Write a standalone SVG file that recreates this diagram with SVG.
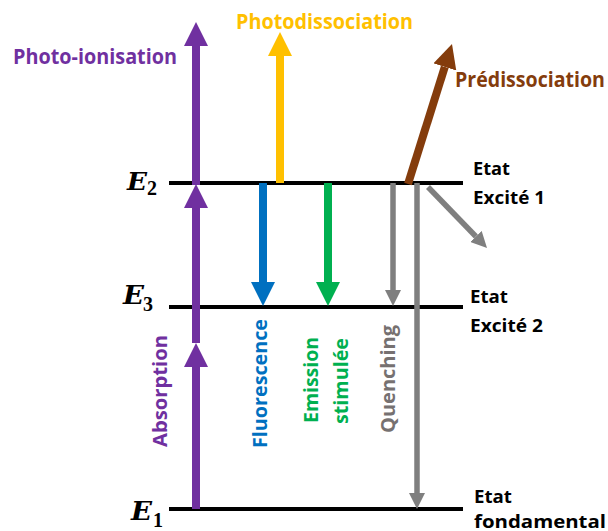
<svg xmlns="http://www.w3.org/2000/svg" width="608" height="531" viewBox="0 0 608 531">
<style>
.lvl{stroke:#000;stroke-width:4;}
.lbl{font-family:"Open Sans","Liberation Sans",sans-serif;font-weight:700;}
.ttl{font-size:21px;}
.st{font-size:18px;fill:#000;}
.vt{font-size:19px;}
.E{font-family:"DejaVu Serif","Liberation Serif",serif;font-weight:700;font-style:italic;fill:#000;}
.sub{font-family:"Liberation Serif",serif;font-weight:700;fill:#000;font-size:20px;}
.a8{stroke-width:8;fill:none;}
.a6{stroke-width:5.5;fill:none;}
</style>
<defs>
<marker id="hP" markerUnits="userSpaceOnUse" markerWidth="24" markerHeight="24" refX="0" refY="12" orient="auto" viewBox="0 0 24 24"><path d="M0,0 L24,12 L0,24 z" fill="#7030A0"/></marker>
<marker id="hY" markerUnits="userSpaceOnUse" markerWidth="24" markerHeight="24" refX="0" refY="12" orient="auto" viewBox="0 0 24 24"><path d="M0,0 L24,12 L0,24 z" fill="#FFC000"/></marker>
<marker id="hB" markerUnits="userSpaceOnUse" markerWidth="24" markerHeight="24" refX="0" refY="12" orient="auto" viewBox="0 0 24 24"><path d="M0,0 L24,12 L0,24 z" fill="#0070C0"/></marker>
<marker id="hG" markerUnits="userSpaceOnUse" markerWidth="24" markerHeight="24" refX="0" refY="12" orient="auto" viewBox="0 0 24 24"><path d="M0,0 L24,12 L0,24 z" fill="#00B050"/></marker>
<marker id="hBr" markerUnits="userSpaceOnUse" markerWidth="24" markerHeight="24" refX="0" refY="12" orient="auto" viewBox="0 0 24 24"><path d="M0,0 L24,12 L0,24 z" fill="#843C0C"/></marker>
<marker id="hGr" markerUnits="userSpaceOnUse" markerWidth="16" markerHeight="16" refX="0" refY="8" orient="auto" viewBox="0 0 16 16"><path d="M0,0 L16,8 L0,16 z" fill="#7F7F7F"/></marker>
</defs>

<g id="level-E2">
<line class="lvl" x1="169" y1="183" x2="463" y2="183"/>
<text class="E" x="127" y="190" font-size="25" textLength="20" lengthAdjust="spacingAndGlyphs">E</text>
<text class="sub" x="147" y="195">2</text>
<text class="lbl st" x="473" y="175" textLength="37" lengthAdjust="spacingAndGlyphs">Etat</text>
<text class="lbl st" x="473" y="204" textLength="72" lengthAdjust="spacingAndGlyphs">Excité 1</text>
</g>
<g id="level-E3">
<line class="lvl" x1="169" y1="307" x2="463" y2="307"/>
<text class="E" x="123" y="304" font-size="26" textLength="21" lengthAdjust="spacingAndGlyphs">E</text>
<text class="sub" x="143" y="311">3</text>
<text class="lbl st" x="470" y="303" textLength="38" lengthAdjust="spacingAndGlyphs">Etat</text>
<text class="lbl st" x="470" y="332" textLength="73" lengthAdjust="spacingAndGlyphs">Excité 2</text>
</g>
<g id="level-E1">
<line class="lvl" x1="169" y1="509" x2="463" y2="509"/>
<text class="E" x="131" y="520" font-size="26" textLength="21" lengthAdjust="spacingAndGlyphs">E</text>
<text class="sub" x="153" y="527">1</text>
<text class="lbl st" x="474" y="503" textLength="38" lengthAdjust="spacingAndGlyphs">Etat</text>
<text class="lbl st" x="474" y="528" textLength="132" lengthAdjust="spacingAndGlyphs">fondamental</text>
</g>

<g id="connectors">
<line class="a8" stroke="#7030A0" x1="196" y1="509" x2="196" y2="367" marker-end="url(#hP)"/>
<line class="a8" stroke="#7030A0" x1="196" y1="343" x2="196" y2="208" marker-end="url(#hP)"/>
<line class="a8" stroke="#7030A0" x1="196" y1="185" x2="196" y2="46" marker-end="url(#hP)"/>
<line class="a8" stroke="#FFC000" x1="280" y1="183" x2="280" y2="56" marker-end="url(#hY)"/>
<line class="a8" stroke="#0070C0" x1="263" y1="183" x2="263" y2="282" marker-end="url(#hB)"/>
<line class="a8" stroke="#00B050" x1="328" y1="183" x2="328" y2="282" marker-end="url(#hG)"/>
<line class="a6" stroke="#7F7F7F" x1="393" y1="183" x2="393" y2="290" marker-end="url(#hGr)"/>
<line class="a6" stroke="#7F7F7F" x1="417" y1="183" x2="417" y2="493" marker-end="url(#hGr)"/>
<line class="a8" stroke="#843C0C" x1="408" y1="184" x2="444.8" y2="66.9" marker-end="url(#hBr)"/>
<line class="a6" stroke="#7F7F7F" x1="428" y1="187" x2="475.9" y2="236.5" marker-end="url(#hGr)"/>
</g>

<g id="label-photoionisation"><text class="lbl ttl" x="13" y="64" fill="#7030A0" textLength="164" lengthAdjust="spacingAndGlyphs">Photo-ionisation</text></g>
<g id="label-photodissociation"><text class="lbl ttl" x="236" y="29" fill="#FFC000" textLength="177" lengthAdjust="spacingAndGlyphs">Photodissociation</text></g>
<g id="label-predissociation"><text class="lbl ttl" x="455" y="87" fill="#843C0C" textLength="150" lengthAdjust="spacingAndGlyphs">Prédissociation</text></g>
<g id="label-absorption"><text class="lbl vt" transform="translate(167,447) rotate(-90)" fill="#7030A0" textLength="112" lengthAdjust="spacingAndGlyphs">Absorption</text></g>
<g id="label-fluorescence"><text class="lbl vt" transform="translate(267,448) rotate(-90)" fill="#0070C0" textLength="129" lengthAdjust="spacingAndGlyphs">Fluorescence</text></g>
<g id="label-emission">
<text class="lbl vt" transform="translate(318,423) rotate(-90)" fill="#00B050" textLength="86" lengthAdjust="spacingAndGlyphs">Emission</text>
<text class="lbl vt" transform="translate(348,424) rotate(-90)" fill="#00B050" textLength="86" lengthAdjust="spacingAndGlyphs">stimulée</text></g>
<g id="label-quenching"><text class="lbl vt" transform="translate(395,433) rotate(-90)" fill="#767171" textLength="108" lengthAdjust="spacingAndGlyphs">Quenching</text></g>
</svg>
